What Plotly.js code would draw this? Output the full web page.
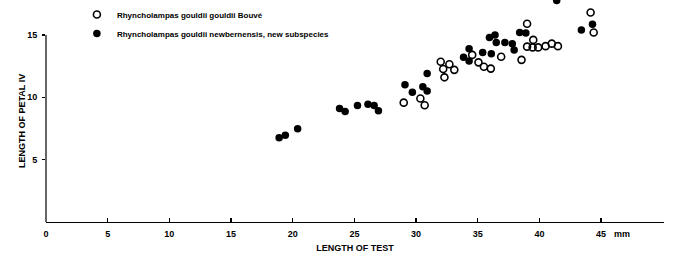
<!DOCTYPE html>
<html>
<head>
<meta charset="utf-8">
<script src="https://cdn.plot.ly/plotly-3.0.1.min.js"></script>
<style>html,body{margin:0;padding:0;background:#fff;}#chart{width:673px;height:262px;}</style>
</head>
<body>
<div id="chart"></div>
<script>
// Length of test (mm) vs length of petal IV (mm)
const gouldiiName = 'Rhyncholampas gouldii gouldii Bouvé';
const gouldiiX = [29.0, 30.35, 30.7, 32.0, 32.2, 32.7, 33.1, 32.3, 34.55, 35.06, 35.5, 36.06, 36.9, 38.55, 39.0, 39.5, 39.0, 39.45, 39.9, 40.5, 41.0, 41.5, 44.15, 44.4];
const gouldiiY = [9.57, 9.9, 9.36, 12.85, 12.27, 12.65, 12.2, 11.6, 13.4, 12.8, 12.45, 12.3, 13.25, 13.0, 15.9, 14.6, 14.06, 14.0, 14.0, 14.1, 14.3, 14.1, 16.8, 15.2];

const newbernName = 'Rhyncholampas gouldii newbernensis, new subspecies';
const newbernX = [18.9, 19.4, 20.4, 23.8, 24.25, 25.25, 26.1, 26.6, 26.95, 29.1, 29.7, 30.55, 30.9, 30.9, 33.85, 34.3, 34.3, 35.4, 36.1, 35.95, 36.4, 36.5, 37.2, 37.8, 37.95, 38.4, 38.9, 41.4, 43.4, 44.3];
const newbernY = [6.76, 6.95, 7.48, 9.1, 8.85, 9.35, 9.45, 9.35, 8.93, 11.0, 10.4, 10.85, 10.5, 11.9, 13.2, 12.9, 13.9, 13.6, 13.5, 14.8, 15.0, 14.4, 14.4, 14.3, 13.8, 15.2, 15.15, 17.75, 15.4, 15.85];

const xTickVals = [0, 5, 10, 15, 20, 25, 30, 35, 40, 45];
const xTickText = ['0', '5', '10', '15', '20', '25', '30', '35', '40', '45'];
const yTickVals = [5, 10, 15];
const yTickText = ['5', '10', '15'];

const FONT = 'Liberation Sans, Arial, Helvetica, sans-serif';

const traces = [
  {
    x: gouldiiX, y: gouldiiY, name: gouldiiName, type: 'scatter', mode: 'markers',
    marker: {symbol: 'circle-open', size: 7, color: '#000', line: {width: 1.6, color: '#000'}},
    cliponaxis: false
  },
  {
    x: newbernX, y: newbernY, name: newbernName, type: 'scatter', mode: 'markers',
    marker: {symbol: 'circle', size: 7.5, color: '#000'},
    cliponaxis: false
  }
];

const layout = {
  width: 673, height: 262,
  margin: {l: 46, r: 9, t: 0, b: 40, pad: 0},
  paper_bgcolor: '#fff', plot_bgcolor: '#fff',
  font: {family: FONT, color: '#000', size: 9, weight: 700},
  showlegend: true,
  legend: {
    x: 0.05, y: 1.0, xanchor: 'left', yanchor: 'top',
    bgcolor: 'rgba(0,0,0,0)', borderwidth: 0,
    font: {family: FONT, size: 8, color: '#000', weight: 700},
    tracegroupgap: 0, itemwidth: 30
  },
  xaxis: {
    range: [0, 50.1], showgrid: false, zeroline: false,
    showline: true, linecolor: '#000', linewidth: 1.2,
    ticks: 'inside', ticklen: 4, tickwidth: 1.2, tickcolor: '#000',
    tickmode: 'array', tickvals: xTickVals, ticktext: xTickText,
    tickfont: {family: FONT, size: 9, color: '#000', weight: 700},
    ticklabelstandoff: 3,
    title: {text: 'LENGTH OF TEST', font: {family: FONT, size: 9, color: '#000', weight: 700}, standoff: 6}
  },
  yaxis: {
    range: [0, 17.8], showgrid: false, zeroline: false,
    showline: false,
    ticks: 'outside', ticklen: 3, tickwidth: 1.2, tickcolor: '#000',
    tickmode: 'array', tickvals: yTickVals, ticktext: yTickText,
    tickfont: {family: FONT, size: 9, color: '#000', weight: 700},
    ticklabelstandoff: 3
  },
  shapes: [
    {type: 'line', xref: 'paper', yref: 'y', x0: 0, x1: 0, y0: 0, y1: 15, line: {color: '#000', width: 1.2}}
  ],
  annotations: [
    {text: 'mm', xref: 'x', yref: 'paper', x: 45.9, y: 0, xanchor: 'left', yanchor: 'top', yshift: -5,
     showarrow: false, font: {family: FONT, size: 9, color: '#000', weight: 700}},
    {text: 'LENGTH OF PETAL IV', xref: 'paper', yref: 'y', x: 0, y: 8.1, xshift: -24, textangle: -90,
     xanchor: 'center', yanchor: 'middle', showarrow: false,
     font: {family: FONT, size: 9, color: '#000', weight: 700}}
  ]
};

Plotly.newPlot('chart', traces, layout, {staticPlot: true, displayModeBar: false});
</script>
</body>
</html>
